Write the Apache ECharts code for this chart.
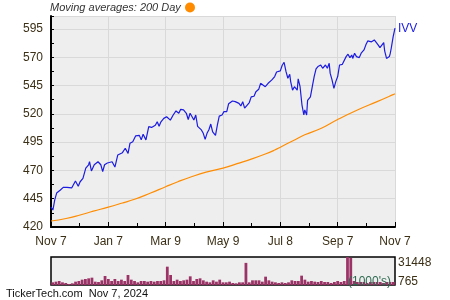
<!DOCTYPE html>
<html>
<head>
<meta charset="utf-8">
<script src="https://cdn.jsdelivr.net/npm/echarts@6/dist/echarts.min.js"></script>
<style>
html,body{margin:0;padding:0;background:#fff;}
#c{width:450px;height:300px;}
</style>
</head>
<body>
<div id="c"></div>
<script>
// ---- data ----
// day offsets from Nov 7, 2023
var xTickLabels = ['Nov 7', 'Jan 7', 'Mar 9', 'May 9', 'Jul 8', 'Sep 7', 'Nov 7'];
var priceDays = [0,2,4,6,10,13,17,22,26,29,31,34,37,40,41,43,46,50,53,55,57,60,62,65,68,71,76,79,82,84,87,90,94,96,98,101,104,107,111,113,115,
  117,120,123,127,130,133,136,138,141,144,146,148,150,152,154,156,160,162,164,166,168,170,172,175,177,179,182,184,187,189,193,196,198,200,202,204,206,209,211,213,216,218,221,223,225,228,231,233,235,238,240,
  244,246,248,250,252,254,255,257,259,262,263,265,267,269,270,272,273,276,278,280,282,284,286,287,289,292,294,296,297,299,301,303,305,306,307,310,312,314,316,318,320,321,323,325,328,330,332,333,335,337,339,341,344,346,348,350,352,354,355,357,360,361,362,364,366];
var priceVals = [437.7,435,444,450,452.7,455,455,454.5,460.6,456,460,463,472,475,477.7,469.5,475,477.7,475,469,475,476.6,476.6,477.7,473,483.6,485.7,489.6,485,494,495.4,500.5,501,497,502,497,508.7,508,510,513,509,
  513,516,517.5,514.5,519,522.6,520.5,524,523.5,520.5,515,520.5,519,514.6,519,509,505.8,502.8,497.5,502.8,506,511,504,501,510,518,519,522,522,529,531.4,530.8,532.3,529.3,527,530.8,525,528,530,535,535.6,539.6,541.7,547,545.5,544,547,545.5,550,553,557,
  558,563,565.6,557.5,551.5,555,548.5,541,544,541,551,544,528,519,523.5,519,532,535,544,553,559.7,561.8,560.3,563.2,560.3,563.2,560.3,564.7,556,550,542.6,548.5,553,558,563.2,563.8,563.8,570.6,572.7,569.7,572,569,573.6,570.6,569.7,573.6,575,576.5,581,584.5,586,583.7,585.3,584.5,581,578.5,579.4,583,575.6,569,570.6,573.6,578,588,595.7];
var maDays = [0,16,31,45,60,75,89,106,122,135,148,165,183,198,213,228,238,244,258,270,287,305,326,347,364,366];
var maVals = [425.3,427.5,430.6,434,437.4,441,444.5,450,455.6,460,464,468.5,472,476,480,484.5,488,490.5,496.5,501.5,507,515,523.4,530.8,537,537.8];
// volume in 1000's, evenly spaced across the year
var volumes = [3688,4418,5149,3688,2957,1861,2592,4418,5149,6610,7341,8072,8802,4418,4053,5880,10629,7341,5149,7341,5149,6610,5149,11725,6610,5149,3688,
  5149,5149,4418,5149,4418,5149,5149,5880,20858,11725,5149,6610,5149,5880,6610,10264,5149,7341,8072,5880,4418,3688,5880,4418,6610,3688,3688,
  4418,2957,2592,3688,3688,25000,3688,5880,5880,5880,4418,9898,5880,4418,3688,2957,3688,2957,3688,5880,5149,5149,10994,6610,4418,5149,4418,
  4053,5149,4053,4053,2957,4053,5149,4053,5149,31448,30500,5149,4053,4053,4053,2957,4053,4053,4053,4053,2957,4053,4053,4053];
var volMin = 765, volMax = 31448;

var priceData = priceDays.map(function(d,i){return [d, priceVals[i]];});
var maData = maDays.map(function(d,i){return [d, maVals[i]];});
var volCats = volumes.map(function(v,i){return i;});

var labelColor = '#3b2f16';
var chart = echarts.init(document.getElementById('c'), null, {renderer:'canvas'});
chart.setOption({
  animation:false,
  backgroundColor:'#ffffff',
  grid:[
    {left:51, right:55, top:16, bottom:73, show:true, backgroundColor:'#eeeeee', borderWidth:0},
    {left:51, right:55, top:257, bottom:15, show:true, backgroundColor:'#eeeeee', borderColor:'#000', borderWidth:1.5}
  ],
  xAxis:[
    {type:'value', gridIndex:0, min:0, max:366, interval:61,
     axisLine:{show:true, onZero:false, lineStyle:{color:'#000', width:2}},
     axisTick:{show:true, inside:true, length:5, lineStyle:{color:'#000'}},
     minorTick:{show:true, splitNumber:2, length:4, lineStyle:{color:'#000'}},
     splitLine:{show:true, lineStyle:{color:'#d9d9d9', width:1}},
     axisLabel:{color:labelColor, fontSize:12, fontFamily:'Liberation Sans', margin:9,
       showMinLabel:true, showMaxLabel:true,
       formatter:function(v){return xTickLabels[Math.round(v/61)];}}
    },
    {type:'category', gridIndex:1, data:volCats, boundaryGap:true,
     axisLine:{show:false}, axisTick:{show:false}, axisLabel:{show:false}, splitLine:{show:false}}
  ],
  yAxis:[
    {type:'value', gridIndex:0, min:420, max:606.5, interval:25,
     axisLine:{show:true, lineStyle:{color:'#000', width:2}},
     axisTick:{show:true, inside:true, length:3, lineStyle:{color:'#000'}},
     minorTick:{show:true, splitNumber:2, length:3, lineStyle:{color:'#000'}},
     splitLine:{show:true, lineStyle:{color:'#d9d9d9', width:1}},
     axisLabel:{color:labelColor, fontSize:12, fontFamily:'Liberation Sans', margin:8, showMaxLabel:false}
    },
    {type:'value', gridIndex:1, min:volMin, max:volMax, interval:volMax-volMin, position:'right',
     axisLine:{show:false}, axisTick:{show:false}, splitLine:{show:false},
     axisLabel:{color:labelColor, fontSize:12, fontFamily:'Liberation Sans', margin:3, showMinLabel:false, showMaxLabel:true, verticalAlign:'top',
       formatter:function(v){return String(Math.round(v));}}
    },
    {type:'value', gridIndex:1, min:volMin, max:volMax, interval:volMax-volMin, position:'right',
     axisLine:{show:false}, axisTick:{show:false}, splitLine:{show:false},
     axisLabel:{color:labelColor, fontSize:12, fontFamily:'Liberation Sans', margin:3, showMinLabel:true, showMaxLabel:false, verticalAlign:'bottom', lineHeight:6,
       formatter:function(v){return String(Math.round(v));}}
    }
  ],
  series:[
    {type:'line', xAxisIndex:0, yAxisIndex:0, data:maData, smooth:true, showSymbol:false,
     lineStyle:{color:'#ff8c00', width:1.2}, z:3},
    {type:'line', xAxisIndex:0, yAxisIndex:0, data:priceData, showSymbol:false,
     lineStyle:{color:'#1c1ce0', width:1.2}, z:4,
     endLabel:{show:true, formatter:'IVV', color:'#1c1ce0', fontSize:12, fontFamily:'Liberation Sans', distance:3}},
    {type:'bar', xAxisIndex:1, yAxisIndex:1, data:volumes, barCategoryGap:'15%',
     itemStyle:{color:'#9b3366'}}
  ],
  graphic:[
    {type:'text', left:50, top:2, style:{text:'Moving averages: 200 Day', fill:'#333', font:'italic 11px "Liberation Sans"'}},
    {type:'circle', shape:{cx:190, cy:7.5, r:5}, style:{fill:'#ff8c00'}},
    {type:'text', left:348, top:276, z:10, style:{text:"(1000's)", fill:'#2f6b52', font:'12px "Liberation Sans"'}},
    {type:'text', left:6, top:288, style:{text:'TickerTech.com  Nov 7, 2024', fill:'#111', font:'11px "Liberation Sans"'}}
  ]
});
</script>
</body>
</html>
